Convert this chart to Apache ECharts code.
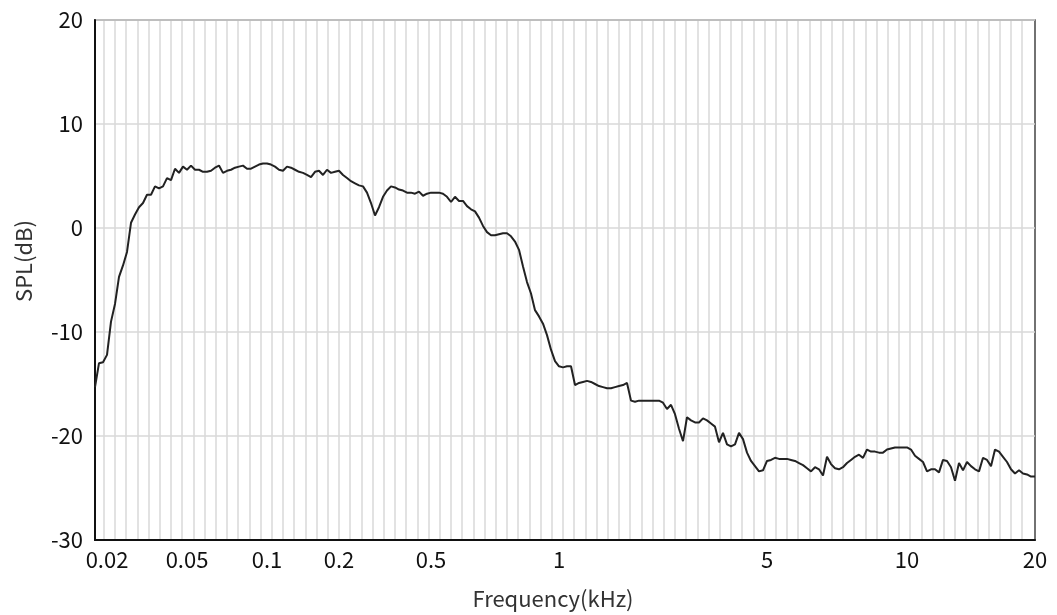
<!DOCTYPE html>
<html>
<head>
<meta charset="utf-8">
<script src="https://cdn.jsdelivr.net/npm/echarts@6/dist/echarts.min.js"></script>
<style>
html,body{margin:0;padding:0;background:#fff;}
#chart{width:1057px;height:615px;}
</style>
</head>
<body>
<div id="chart"></div>
<script>
// Frequencies (kHz) of the measured points, one per category
const freqs = [
  0.0174, 0.0183, 0.0191, 0.02,
  0.0209, 0.0219, 0.023, 0.024, 0.0252, 0.0263, 0.0276, 0.0289, 0.0302, 0.0316,
  0.0331, 0.0347, 0.0363, 0.038, 0.0398, 0.0416, 0.0436, 0.0456, 0.0478, 0.05,
  0.0518, 0.0536, 0.0555, 0.0574, 0.0595, 0.0616, 0.0637, 0.066, 0.0683, 0.0707,
  0.0732, 0.0758, 0.0785, 0.0812, 0.0841, 0.0871, 0.0901, 0.0933, 0.0966, 0.1,
  0.104, 0.108, 0.112, 0.117, 0.121, 0.126, 0.131, 0.136, 0.141, 0.147,
  0.153, 0.159, 0.165, 0.171, 0.178, 0.185, 0.193, 0.2,
  0.208, 0.217, 0.225, 0.235, 0.244, 0.254, 0.264, 0.275, 0.286, 0.298,
  0.31, 0.323, 0.336, 0.349, 0.364, 0.378, 0.394, 0.41, 0.426, 0.444, 0.462, 0.48, 0.5,
  0.511, 0.522, 0.534, 0.545, 0.557, 0.569, 0.582, 0.595, 0.608, 0.621,
  0.634, 0.648, 0.663, 0.677, 0.692, 0.707, 0.723, 0.738, 0.755, 0.771,
  0.788, 0.805, 0.823, 0.841, 0.859, 0.878, 0.897, 0.917, 0.937, 0.958, 0.979, 1,
  1.03, 1.06, 1.1, 1.13, 1.17, 1.2, 1.24, 1.28, 1.32, 1.36,
  1.41, 1.45, 1.5, 1.54, 1.59, 1.64, 1.69, 1.75, 1.8, 1.86,
  1.92, 1.98, 2.04, 2.1, 2.17, 2.24, 2.31, 2.38, 2.45, 2.53,
  2.61, 2.69, 2.78, 2.87, 2.96, 3.05, 3.14, 3.24, 3.35, 3.45,
  3.56, 3.67, 3.79, 3.9, 4.03, 4.15, 4.29, 4.42, 4.56, 4.7, 4.85, 5,
  5.1, 5.2, 5.31, 5.41, 5.52, 5.63, 5.74, 5.86, 5.98, 6.1,
  6.22, 6.34, 6.47, 6.6, 6.73, 6.86, 7, 7.14, 7.28, 7.43,
  7.58, 7.73, 7.89, 8.04, 8.2, 8.37, 8.54, 8.71, 8.88, 9.06,
  9.24, 9.42, 9.61, 9.8, 10,
  10.2, 10.4, 10.7, 10.9, 11.1, 11.4, 11.6, 11.9, 12.1, 12.4,
  12.7, 13, 13.3, 13.5, 13.8, 14.1, 14.5, 14.8, 15.1, 15.4,
  15.8, 16.1, 16.5, 16.8, 17.2, 17.6, 17.9, 18.3, 18.7, 19.2, 19.6, 20
];

// SPL (dB) at each frequency
const spl = [
  -15.3, -13.0, -12.9, -12.2, -9.0, -7.3, -4.7, -3.6, -2.3, 0.5,
  1.3, 2.0, 2.4, 3.2, 3.2, 4.0, 3.8, 4.0, 4.8, 4.6,
  5.7, 5.3, 5.9, 5.6, 6.0, 5.6, 5.6, 5.4, 5.4, 5.5,
  5.8, 6.0, 5.3, 5.5, 5.6, 5.8, 5.9, 6.0, 5.7, 5.7,
  5.9, 6.1, 6.2, 6.2, 6.1, 5.9, 5.6, 5.5, 5.9, 5.8,
  5.6, 5.4, 5.3, 5.1, 4.9, 5.4, 5.5, 5.1, 5.6, 5.3,
  5.4, 5.5, 5.1, 4.8, 4.5, 4.3, 4.1, 4.0, 3.4, 2.4,
  1.2, 2.0, 3.0, 3.6, 4.0, 3.9, 3.7, 3.6, 3.4, 3.4,
  3.3, 3.5, 3.1, 3.3, 3.4, 3.4, 3.4, 3.3, 3.0, 2.5,
  3.0, 2.6, 2.6, 2.1, 1.8, 1.6, 1.0, 0.2, -0.4, -0.7,
  -0.7, -0.6, -0.5, -0.5, -0.8, -1.3, -2.1, -3.7, -5.2, -6.3,
  -7.9, -8.5, -9.2, -10.3, -11.7, -12.8, -13.3, -13.4, -13.3, -13.3,
  -15.1, -14.9, -14.8, -14.7, -14.8, -15.0, -15.2, -15.3, -15.4, -15.4,
  -15.3, -15.2, -15.1, -14.9, -16.6, -16.7, -16.6, -16.6, -16.6, -16.6,
  -16.6, -16.6, -16.8, -17.4, -17.0, -17.9, -19.3, -20.5, -18.2, -18.5,
  -18.7, -18.7, -18.3, -18.5, -18.8, -19.1, -20.6, -19.7, -20.8, -21.0,
  -20.8, -19.7, -20.3, -21.6, -22.4, -22.9, -23.4, -23.3, -22.4, -22.3,
  -22.1, -22.2, -22.2, -22.2, -22.3, -22.4, -22.6, -22.8, -23.1, -23.4,
  -23.0, -23.2, -23.8, -22.0, -22.7, -23.1, -23.2, -23.0, -22.6, -22.3,
  -22.0, -21.8, -22.1, -21.3, -21.5, -21.5, -21.6, -21.6, -21.3, -21.2,
  -21.1, -21.1, -21.1, -21.1, -21.3, -21.9, -22.2, -22.5, -23.4, -23.2,
  -23.2, -23.5, -22.3, -22.4, -23.0, -24.3, -22.6, -23.3, -22.5, -22.9,
  -23.2, -23.4, -22.1, -22.3, -22.9, -21.3, -21.5, -22.0, -22.5, -23.2,
  -23.6, -23.3, -23.6, -23.7, -23.9, -23.9
];

// Tick labels shown on the frequency axis
const tickLabels = ['0.02', '0.05', '0.1', '0.2', '0.5', '1', '5', '10', '20'];

const FONT = '"Noto Sans CJK SC", "Noto Sans", sans-serif';
const chart = echarts.init(document.getElementById('chart'), null, { renderer: 'canvas' });

chart.setOption({
  animation: false,
  backgroundColor: '#ffffff',
  grid: [
    {
      left: 95, right: 22, top: 20, bottom: 74,
      show: true, borderColor: '#444', borderWidth: 1.5, backgroundColor: 'transparent',
      z: 3
    },
    {
      // helper grid that only draws the evenly spaced vertical rules
      left: 92.5, right: 27, top: 20, bottom: 74, show: false
    }
  ],
  xAxis: [
    {
      type: 'category',
      gridIndex: 0,
      data: freqs.map(String),
      boundaryGap: false,
      name: 'Frequency(kHz)',
      nameLocation: 'middle',
      nameGap: 48,
      nameTextStyle: { fontFamily: FONT, fontSize: 22, color: '#333', padding: [0, 24, 0, 0] },
      axisLine: { show: true, onZero: false, lineStyle: { color: '#111', width: 2 } },
      axisTick: { show: false },
      splitLine: { show: false },
      axisLabel: {
        interval: (idx, val) => tickLabels.indexOf(val) >= 0,
        margin: 9,
        fontFamily: FONT, fontSize: 22, color: '#111'
      },
      z: 4
    },
    {
      type: 'value',
      gridIndex: 1,
      min: 0, max: 83.7, interval: 1,
      axisLine: { show: false },
      axisTick: { show: false },
      axisLabel: { show: false },
      splitLine: {
        show: true,
        showMinLine: false,
        showMaxLine: false,
        lineStyle: { color: '#d9d9d9', width: 1.5 }
      },
      z: 1
    }
  ],
  yAxis: [
    {
      type: 'value',
      gridIndex: 0,
      min: -30, max: 20, interval: 10,
      name: 'SPL(dB)',
      nameLocation: 'middle',
      nameGap: 60,
      nameTextStyle: { fontFamily: FONT, fontSize: 22, color: '#333', padding: [0, 0, 0, 38] },
      axisLine: { show: true, lineStyle: { color: '#111', width: 2 } },
      axisTick: { show: false },
      axisLabel: { margin: 12, fontFamily: FONT, fontSize: 22, color: '#111' },
      splitLine: { show: true, lineStyle: { color: '#d9d9d9', width: 1.5 } },
      z: 4
    },
    {
      type: 'value',
      gridIndex: 1,
      min: 0, max: 1,
      show: false
    }
  ],
  series: [{
    type: 'line',
    xAxisIndex: 0,
    yAxisIndex: 0,
    data: spl,
    showSymbol: false,
    symbol: 'none',
    smooth: false,
    lineStyle: { color: '#222', width: 2 },
    z: 5
  }]
});
</script>
</body>
</html>
